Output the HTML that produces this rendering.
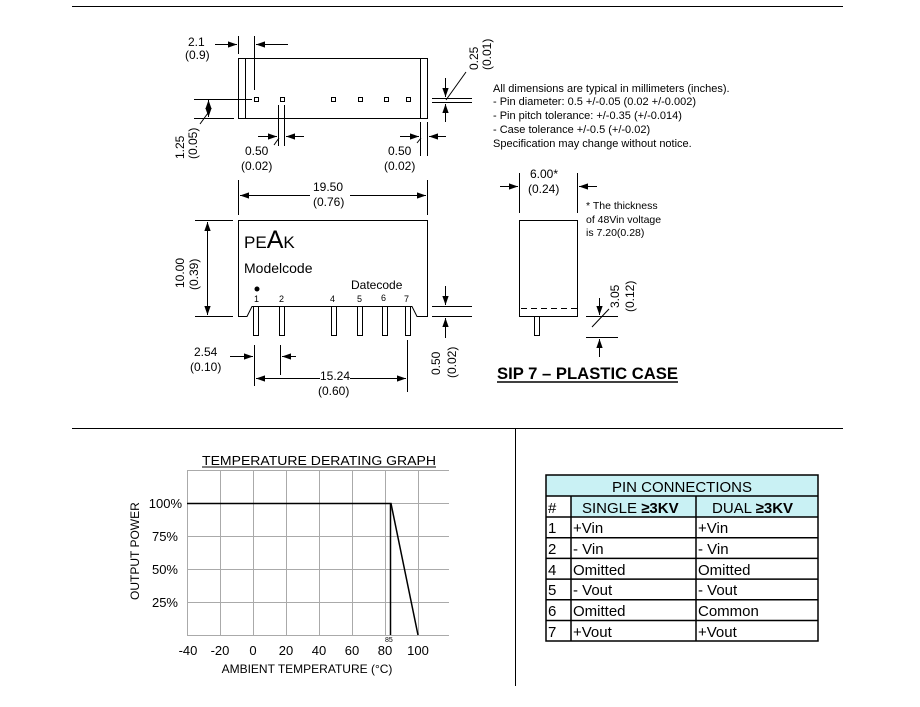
<!DOCTYPE html>
<html><head><meta charset="utf-8"><style>
body{margin:0;background:#fff;}
svg{display:block;font-family:"Liberation Sans",Arial,sans-serif;}
</style></head><body>
<svg width="920" height="707" viewBox="0 0 920 707" xmlns="http://www.w3.org/2000/svg">
<defs>
<marker id="a" viewBox="0 0 10 10" refX="10" refY="5" markerWidth="9" markerHeight="9" markerUnits="userSpaceOnUse" orient="auto"><path d="M0,1.5L10,5L0,8.5z" fill="#000"/></marker>
</defs>
<g stroke="#000" stroke-width="1" fill="none">
<line x1="72" y1="6.5" x2="843" y2="6.5"/>
<line x1="72" y1="428.5" x2="843" y2="428.5"/>
<line x1="515.5" y1="428" x2="515.5" y2="686"/>

<rect x="238.5" y="58.5" width="189" height="60"/>
<line x1="245.5" y1="58" x2="245.5" y2="118"/>
<line x1="420.5" y1="58" x2="420.5" y2="118"/>
<rect x="254.5" y="97.5" width="4" height="4"/>
<rect x="280.5" y="97.5" width="4" height="4"/>
<rect x="331.5" y="97.5" width="4" height="4"/>
<rect x="358.5" y="97.5" width="4" height="4"/>
<rect x="384.5" y="97.5" width="4" height="4"/>
<rect x="406.5" y="97.5" width="4" height="4"/>
<line x1="238.5" y1="36" x2="238.5" y2="54"/>
<line x1="254.5" y1="36" x2="254.5" y2="90"/>
<line x1="215" y1="44.5" x2="237" y2="44.5" marker-end="url(#a)"/>
<line x1="288" y1="44.5" x2="256" y2="44.5" marker-end="url(#a)"/>
<line x1="432" y1="98.5" x2="472" y2="98.5"/>
<line x1="432" y1="102.5" x2="472" y2="102.5"/>
<line x1="445.5" y1="78" x2="445.5" y2="97" marker-end="url(#a)"/>
<line x1="445.5" y1="122" x2="445.5" y2="104" marker-end="url(#a)"/>
<line x1="446" y1="100" x2="466" y2="72"/>
<line x1="194" y1="99.5" x2="252" y2="99.5"/>
<line x1="194" y1="118.5" x2="234" y2="118.5"/>
<line x1="208.5" y1="109" x2="208.5" y2="100" marker-end="url(#a)"/>
<line x1="208.5" y1="109" x2="208.5" y2="117" marker-end="url(#a)"/>
<line x1="208" y1="113" x2="200" y2="124"/>
<line x1="278.5" y1="105" x2="278.5" y2="146"/>
<line x1="284.5" y1="105" x2="284.5" y2="146"/>
<line x1="258" y1="136.5" x2="277" y2="136.5" marker-end="url(#a)"/>
<line x1="304" y1="136.5" x2="286" y2="136.5" marker-end="url(#a)"/>
<line x1="279" y1="138" x2="274" y2="145"/>
<line x1="420.5" y1="122" x2="420.5" y2="156"/>
<line x1="427.5" y1="122" x2="427.5" y2="156"/>
<line x1="400" y1="136.5" x2="419" y2="136.5" marker-end="url(#a)"/>
<line x1="446" y1="136.5" x2="429" y2="136.5" marker-end="url(#a)"/>
<line x1="421" y1="138" x2="417" y2="143"/>

<line x1="238.5" y1="180" x2="238.5" y2="215"/>
<line x1="427.5" y1="180" x2="427.5" y2="215"/>
<line x1="310" y1="195.5" x2="240" y2="195.5" marker-end="url(#a)"/>
<line x1="350" y1="195.5" x2="426" y2="195.5" marker-end="url(#a)"/>

<path d="M238.5,220.5H427.5V316.5H417L412,306.5H252L247,316.5H238.5Z"/>
<rect x="253.5" y="306.5" width="5" height="29"/>
<rect x="279.5" y="306.5" width="5" height="29"/>
<rect x="331.5" y="306.5" width="5" height="29"/>
<rect x="357.5" y="306.5" width="5" height="29"/>
<rect x="382.5" y="306.5" width="5" height="29"/>
<rect x="405.5" y="306.5" width="5" height="29"/>
<line x1="195" y1="220.5" x2="233" y2="220.5"/>
<line x1="195" y1="316.5" x2="233" y2="316.5"/>
<line x1="207.5" y1="268" x2="207.5" y2="222" marker-end="url(#a)"/>
<line x1="207.5" y1="268" x2="207.5" y2="315" marker-end="url(#a)"/>
<line x1="432" y1="306.5" x2="472" y2="306.5"/>
<line x1="432" y1="316.5" x2="472" y2="316.5"/>
<line x1="445.5" y1="286" x2="445.5" y2="305" marker-end="url(#a)"/>
<line x1="445.5" y1="338" x2="445.5" y2="318" marker-end="url(#a)"/>
<line x1="254.5" y1="345" x2="254.5" y2="386"/>
<line x1="280.5" y1="345" x2="280.5" y2="375"/>
<line x1="230" y1="356.5" x2="253" y2="356.5" marker-end="url(#a)"/>
<line x1="296" y1="356.5" x2="282" y2="356.5" marker-end="url(#a)"/>
<line x1="407.5" y1="340" x2="407.5" y2="392"/>
<line x1="320" y1="378.5" x2="256" y2="378.5" marker-end="url(#a)"/>
<line x1="350" y1="378.5" x2="406" y2="378.5" marker-end="url(#a)"/>

<line x1="519.5" y1="173" x2="519.5" y2="213"/>
<line x1="577.5" y1="173" x2="577.5" y2="213"/>
<line x1="500" y1="186.5" x2="518" y2="186.5" marker-end="url(#a)"/>
<line x1="597" y1="186.5" x2="579" y2="186.5" marker-end="url(#a)"/>
<rect x="519.5" y="220.5" width="58" height="96"/>
<line x1="521" y1="308.5" x2="577" y2="308.5" stroke-dasharray="6,4"/>
<rect x="534.5" y="316.5" width="5" height="19"/>
<line x1="586" y1="316.5" x2="618" y2="316.5"/>
<line x1="586" y1="337.5" x2="618" y2="337.5"/>
<line x1="599.5" y1="298" x2="599.5" y2="315" marker-end="url(#a)"/>
<line x1="599.5" y1="357" x2="599.5" y2="339" marker-end="url(#a)"/>
<line x1="592" y1="327" x2="609" y2="309"/>
</g>

<circle cx="257" cy="289" r="2.5" fill="#000"/>
<g font-size="12" fill="#000">
<text x="188" y="46">2.1</text><text x="185" y="59">(0.9)</text>
<text transform="translate(478,70) rotate(-90)">0.25</text>
<text transform="translate(491,70) rotate(-90)">(0.01)</text>
<text transform="translate(184,159) rotate(-90)">1.25</text>
<text transform="translate(197,159) rotate(-90)">(0.05)</text>
<text x="245" y="155">0.50</text><text x="241" y="170">(0.02)</text>
<text x="388" y="155">0.50</text><text x="384" y="170">(0.02)</text>
<text x="313" y="191">19.50</text><text x="313" y="206">(0.76)</text>
<text transform="translate(184,288) rotate(-90)">10.00</text>
<text transform="translate(198,290) rotate(-90)">(0.39)</text>
<text transform="translate(440,375) rotate(-90)">0.50</text>
<text transform="translate(456,378) rotate(-90)">(0.02)</text>
<text x="194" y="356">2.54</text><text x="190" y="371">(0.10)</text>
<text x="320" y="380">15.24</text><text x="318" y="395">(0.60)</text>
<text x="530" y="178">6.00*</text><text x="528" y="193">(0.24)</text>
<text transform="translate(619,308) rotate(-90)">3.05</text>
<text transform="translate(634,312) rotate(-90)">(0.12)</text>
</g>
<text x="244" y="248" font-size="17">PE<tspan font-size="25">A</tspan>K</text>
<text x="244" y="273" font-size="14">Modelcode</text>
<text x="351" y="289" font-size="12">Datecode</text>
<g font-size="9"><text x="254" y="302">1</text><text x="279" y="302">2</text><text x="330" y="302">4</text><text x="357" y="302">5</text><text x="381" y="301">6</text><text x="404" y="302">7</text></g>
<g font-size="11">
<text x="493" y="92">All dimensions are typical in millimeters (inches).</text>
<text x="493" y="105">- Pin diameter: 0.5 +/-0.05 (0.02 +/-0.002)</text>
<text x="493" y="119">- Pin pitch tolerance: +/-0.35 (+/-0.014)</text>
<text x="493" y="133">- Case tolerance +/-0.5 (+/-0.02)</text>
<text x="493" y="147">Specification may change without notice.</text>
</g>
<g font-size="10.5"><text x="586" y="209">* The thickness</text><text x="586" y="223">of 48Vin voltage</text><text x="586" y="236">is 7.20(0.28)</text></g>
<text x="497" y="379" font-size="16.5" font-weight="bold" textLength="181" lengthAdjust="spacingAndGlyphs">SIP 7 – PLASTIC CASE</text>
<line x1="497" y1="382" x2="678" y2="382" stroke="#000" stroke-width="1.5"/>

<g stroke="#aaa" stroke-width="1">
<line x1="187" y1="470.5" x2="449" y2="470.5"/><line x1="187" y1="503.5" x2="449" y2="503.5"/>
<line x1="187" y1="536.5" x2="449" y2="536.5"/><line x1="187" y1="569.5" x2="449" y2="569.5"/>
<line x1="187" y1="602.5" x2="449" y2="602.5"/><line x1="187" y1="635.5" x2="449" y2="635.5"/>
<line x1="187.5" y1="470" x2="187.5" y2="636"/><line x1="220.5" y1="470" x2="220.5" y2="636"/>
<line x1="253.5" y1="470" x2="253.5" y2="636"/><line x1="286.5" y1="470" x2="286.5" y2="636"/>
<line x1="319.5" y1="470" x2="319.5" y2="636"/><line x1="352.5" y1="470" x2="352.5" y2="636"/>
<line x1="385.5" y1="470" x2="385.5" y2="636"/><line x1="418.5" y1="470" x2="418.5" y2="636"/>
</g>
<g stroke="#000" stroke-width="1.5" fill="none">
<polyline points="187,503.5 391,503.5 418,635"/>
<line x1="390.5" y1="503" x2="390.5" y2="635"/>
</g>
<text x="202" y="465" font-size="13" textLength="234" lengthAdjust="spacingAndGlyphs">TEMPERATURE DERATING GRAPH</text>
<line x1="202" y1="467" x2="436" y2="467" stroke="#000"/>
<g font-size="13" text-anchor="end"><text x="182" y="508">100%</text><text x="178" y="541">75%</text><text x="178" y="574">50%</text><text x="178" y="607">25%</text></g>
<text transform="translate(139,600) rotate(-90)" font-size="12">OUTPUT POWER</text>
<text x="385" y="642" font-size="7">85</text>
<g font-size="13" text-anchor="middle"><text x="188" y="655">-40</text><text x="220" y="655">-20</text><text x="253" y="655">0</text><text x="286" y="655">20</text><text x="319" y="655">40</text><text x="352" y="655">60</text><text x="385" y="655">80</text><text x="418" y="655">100</text></g>
<text x="307" y="673" font-size="12" text-anchor="middle">AMBIENT TEMPERATURE (°C)</text>

<rect x="546" y="475" width="272" height="21" fill="#c9f1f4"/>
<rect x="571" y="496" width="247" height="21" fill="#c9f1f4"/>
<rect x="546" y="496" width="25" height="21" fill="#fff"/>
<g stroke="#000" stroke-width="1.5" fill="none">
<rect x="546" y="475" width="272" height="166"/>
<line x1="546" y1="496" x2="818" y2="496"/><line x1="546" y1="517" x2="818" y2="517"/>
<line x1="546" y1="537.7" x2="818" y2="537.7"/><line x1="546" y1="558.4" x2="818" y2="558.4"/>
<line x1="546" y1="579.1" x2="818" y2="579.1"/><line x1="546" y1="599.8" x2="818" y2="599.8"/>
<line x1="546" y1="620.5" x2="818" y2="620.5"/>
<line x1="571" y1="496" x2="571" y2="641"/><line x1="696" y1="496" x2="696" y2="641"/>
</g>
<g font-size="15">
<text x="682" y="492" text-anchor="middle">PIN CONNECTIONS</text>
<text x="548" y="513">#</text>
<text x="582" y="513">SINGLE <tspan font-weight="bold">≥3KV</tspan></text>
<text x="712" y="513">DUAL <tspan font-weight="bold">≥3KV</tspan></text>
<text x="548" y="533">1</text><text x="573" y="533">+Vin</text><text x="698" y="533">+Vin</text>
<text x="548" y="554">2</text><text x="573" y="554">- Vin</text><text x="698" y="554">- Vin</text>
<text x="548" y="575">4</text><text x="573" y="575">Omitted</text><text x="698" y="575">Omitted</text>
<text x="548" y="595">5</text><text x="573" y="595">- Vout</text><text x="698" y="595">- Vout</text>
<text x="548" y="616">6</text><text x="573" y="616">Omitted</text><text x="698" y="616">Common</text>
<text x="548" y="637">7</text><text x="573" y="637">+Vout</text><text x="698" y="637">+Vout</text>
</g>
</svg>
</body></html>
